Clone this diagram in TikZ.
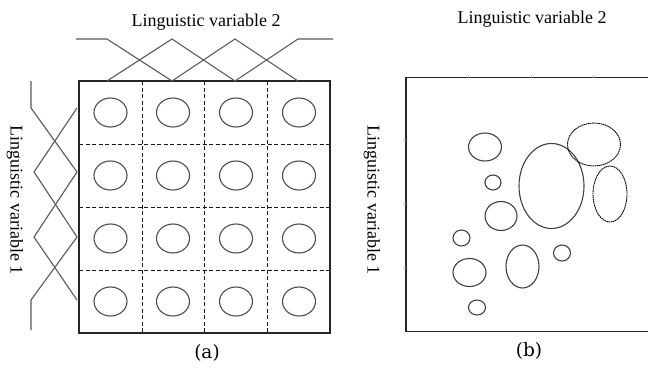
\documentclass[tikz,border=0pt]{standalone}
\usepackage{fontspec}
\usetikzlibrary{shapes.geometric}
\newfontfamily\tnr{Liberation Serif}
\newfontfamily\capfont{DejaVu Serif}
\begin{document}
\begin{tikzpicture}[x=1pt,y=-1pt,
  frame/.style={draw=black!85,line width=1.3pt},
  grid/.style={draw=black!90,line width=0.9pt,dash pattern=on 4pt off 2.5pt},
  mf/.style={draw=black!65,line width=1.1pt},
  cell/.style={draw=black!70,line width=1.1pt,ellipse,minimum width=33pt,minimum height=29pt,inner sep=0pt},
  blob/.style={draw=black!75,line width=1.1pt},
  dblob/.style={draw=black,line width=0.9pt,dash pattern=on 1.5pt off 0.6pt},
  tick/.style={draw=black!30,line width=0.6pt},
  lab/.style={font=\tnr\fontsize{18}{21}\selectfont,inner sep=0pt},
  captext/.style={font=\capfont\fontsize{18.5}{21}\selectfont,inner sep=0pt}]
\useasboundingbox (0,0) rectangle (648,367);
% ---------- (a) ----------
\node[lab] (topA) at (206,22) {Linguistic variable 2};
\node[lab,rotate=-90] (leftA) at (15,200) {Linguistic variable 1};
\node[captext] (capA) at (207,353) {(a)};
\coordinate (A1) at (79,81);
\coordinate (A2) at (330,333);
\draw[frame] (A1) rectangle (A2);
\foreach \x in {142,204,267} \draw[grid] (\x,81) -- (\x,333);
\foreach \y in {144,207,270} \draw[grid] (79,\y) -- (330,\y);
\foreach \x [count=\i] in {110.5,173,236,299}
  \foreach \y [count=\j] in {112.5,175.5,238.5,301.5}
    \node[cell] (c\i\j) at (\x,\y) {};
% top membership functions
\draw[mf] (76,39) -- (107,39) -- (172,81);
\draw[mf] (107,81) -- (172,39) -- (235,81);
\draw[mf] (172,81) -- (235,39) -- (298,81);
\draw[mf] (235,81) -- (298,39) -- (333,39);
% left membership functions
\draw[mf] (31,81) -- (31,108) -- (77,172);
\draw[mf] (77,108) -- (34,172) -- (77,237);
\draw[mf] (77,172) -- (34,237) -- (77,300);
\draw[mf] (77,237) -- (31,300) -- (31,330);
% ---------- (b) ----------
\node[lab] (topB) at (532,19) {Linguistic variable 2};
\node[lab,rotate=-90] (leftB) at (372,200) {Linguistic variable 1};
\node[captext] (capB) at (529,351) {(b)};
\draw[frame] (650,77.5) -- (406,77.5) -- (406,331.5) -- (650,331.5);
\foreach \x in {468,531,593} \draw[tick] (\x,77.5) -- (\x,74.5);
\foreach \y in {140,203,267} \draw[tick] (406,\y) -- (403,\y);
\draw[blob] (485,147) ellipse [x radius=16.5,y radius=14];
\draw[blob] (493,182.5) ellipse [x radius=8,y radius=7.5];
\draw[blob] (501,216) ellipse [x radius=16,y radius=14.5];
\draw[blob] (551.5,186) ellipse [x radius=32.5,y radius=42.5];
\draw[dblob] (594,144.5) ellipse [x radius=26.5,y radius=21.5];
\draw[dblob] (610,194) ellipse [x radius=17,y radius=28];
\draw[blob] (461.5,238) ellipse [x radius=8.5,y radius=8];
\draw[blob] (562,253) ellipse [x radius=8.5,y radius=8];
\draw[blob] (469.5,272.5) ellipse [x radius=16.5,y radius=14];
\draw[blob] (522.5,266.5) ellipse [x radius=16.5,y radius=21.5];
\draw[blob] (477,307.5) ellipse [x radius=8.5,y radius=7.5];
\end{tikzpicture}
\end{document}
